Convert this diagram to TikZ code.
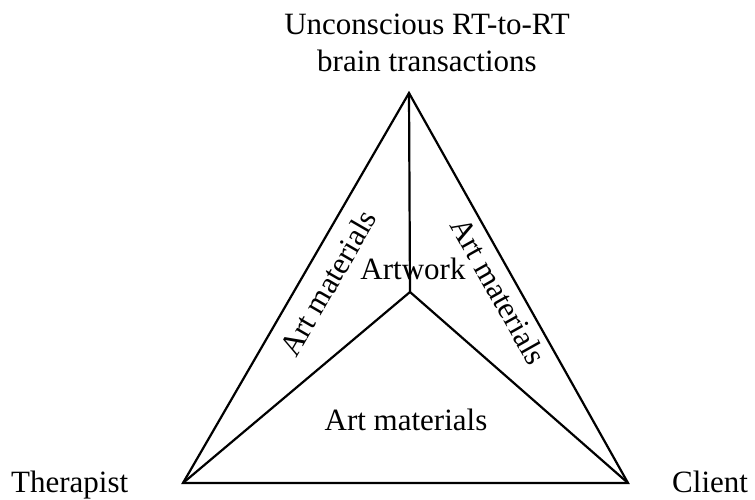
\documentclass[tikz,border=0pt]{standalone}
\usepackage{fontspec}
\setmainfont{Liberation Serif}
\begin{document}
\begin{tikzpicture}[x=1pt,y=-1pt,
  edge/.style={line width=2.2pt,black},
  lbl/.style={inner sep=0pt,font=\fontsize{31}{37}\selectfont}]
\useasboundingbox (0,0) rectangle (755,500);
\coordinate (T) at (409,93);
\coordinate (L) at (183,483);
\coordinate (R) at (628,483);
\coordinate (C) at (410,292);
\draw[edge] (T) -- (L) -- (R) -- cycle;
\draw[edge] (C) -- (T);
\draw[edge] (C) -- (L);
\draw[edge] (C) -- (R);
\node[lbl,anchor=north,align=center] (top) at (427,14) {Unconscious RT-to-RT\\brain transactions};
\node[lbl,anchor=base west] (ther) at (11,492) {Therapist};
\node[lbl,anchor=base west] (cli) at (672,492) {Client};
\node[lbl,anchor=base] (art) at (413,279) {Artwork};
\node[lbl,anchor=base] (amb) at (406,430) {Art materials};
\node[lbl,rotate=59.9] (aml) at (328,283) {Art materials};
\node[lbl,rotate=-60.7] (amr) at (499,291) {Art materials};
\end{tikzpicture}
\end{document}
